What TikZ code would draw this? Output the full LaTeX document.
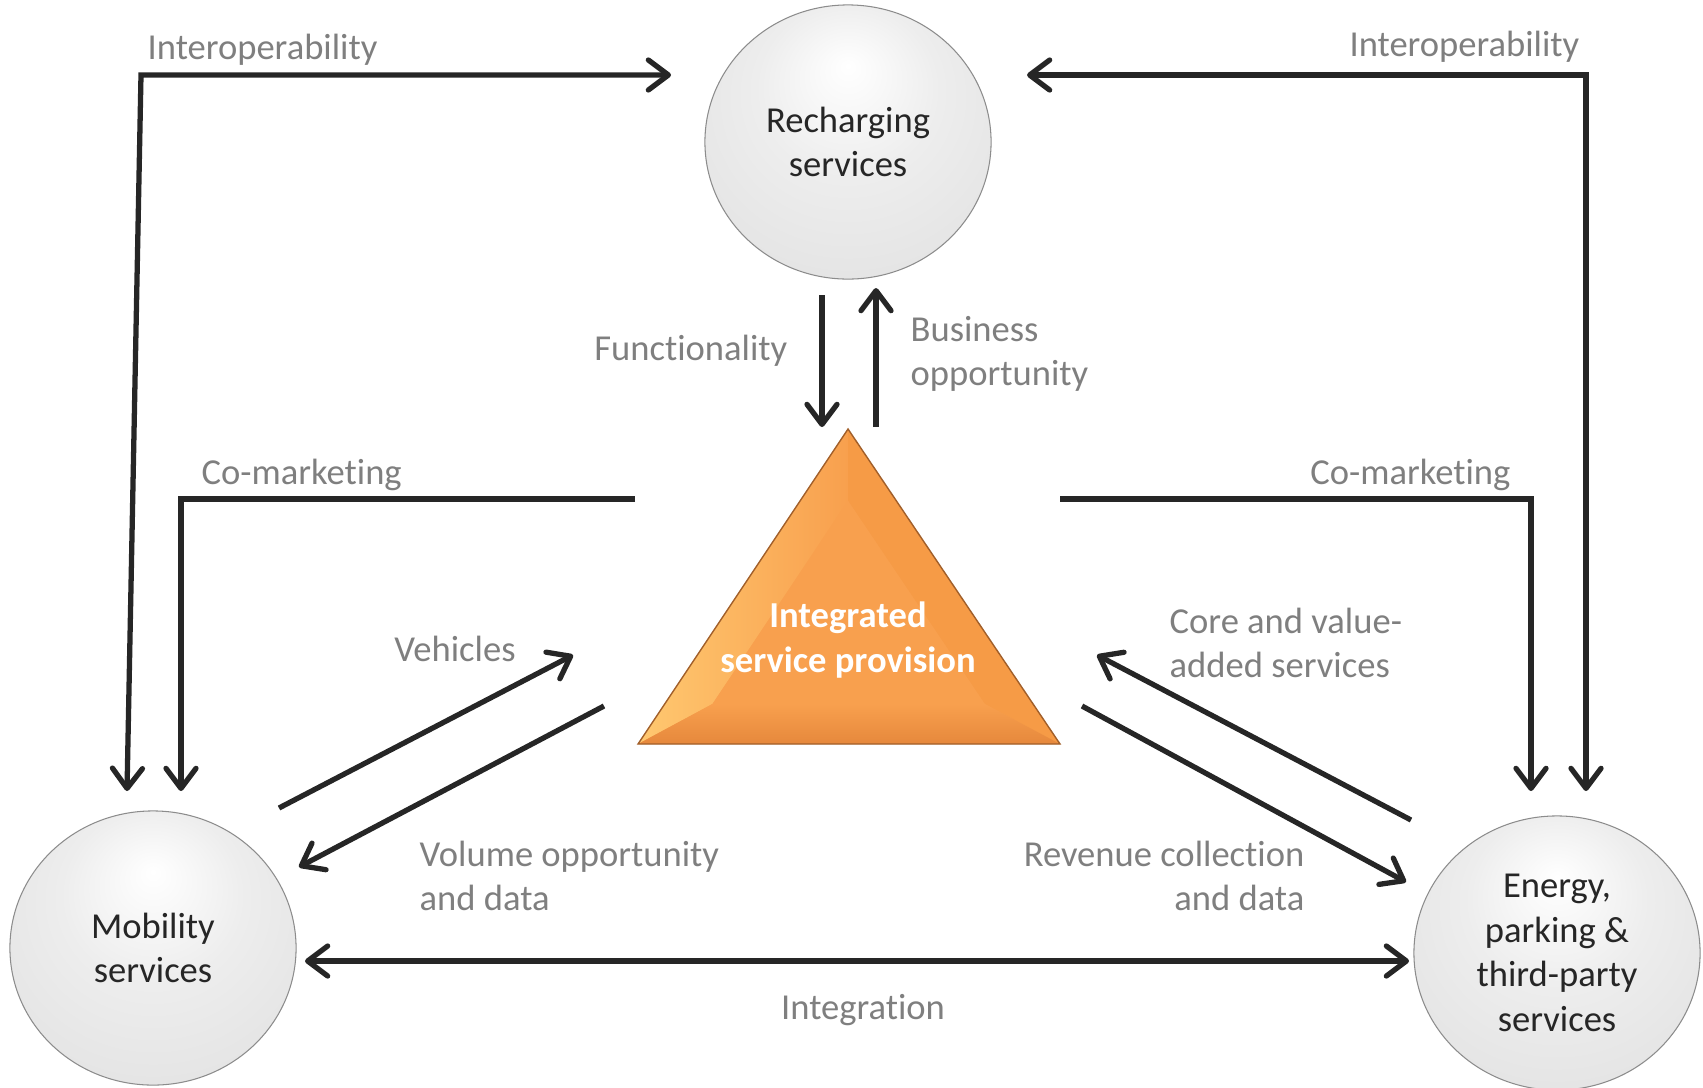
\documentclass[tikz,border=0pt]{standalone}
\usepackage{fontspec}
\setmainfont{Carlito}[Ligatures=NoCommon]
\usetikzlibrary{arrows.meta,shapes.geometric,calc}

\definecolor{linegray}{RGB}{38,38,38}
\definecolor{labelgray}{RGB}{127,127,127}
\definecolor{orangemid}{RGB}{248,160,78}
\definecolor{orangelight}{RGB}{255,200,112}
\definecolor{orangeright}{RGB}{246,155,70}
\definecolor{orangedark}{RGB}{230,136,60}
\pgfdeclareradialshading{sphere}{\pgfpoint{0bp}{14bp}}{color(0bp)=(white); color(16bp)=(black!7); color(38bp)=(black!12); color(46bp)=(black!24); color(50bp)=(black!55)}

\tikzset{
  service/.style={ellipse, shade, shading=sphere, draw=black!45, line width=0.3pt,
    minimum width=2.86cm, minimum height=2.74cm, inner sep=0pt, align=center,
    text=linegray, font=\fontsize{10.4}{12.7}\selectfont},
  core/.style={align=center, text=white, inner sep=0pt,
    font=\fontsize{10.4}{12.7}\selectfont\bfseries},
  tag/.style={text=labelgray, inner sep=0pt, font=\fontsize{10.4}{12.7}\selectfont},
  link/.style={draw=linegray, line width=1.5pt},
}

\begin{document}
\begin{tikzpicture}[x=0.01cm, y=-0.01cm,
    >={Straight Barb[length=2mm,width=3mm,line cap=round,line join=round]}]
        \useasboundingbox (0,0) rectangle (1703,1087);
        %%%%%%%%%%%%%%%%%%%%%%%% Servicios (esferas) %%%%%%%%%%%%%%%%%%%%%%%%%%%%%%
        \node[service] (rech) at (848,142) {Recharging\\services};
        \node[service] (mob) at (153,948) {Mobility\\services};
        \node[service] (ener) at (1557,953) {Energy,\\parking \&\\third-party\\services};
        %%%%%%%%%%%%%%%%%%%%%%%% Triangulo central %%%%%%%%%%%%%%%%%%%%%%%%%%%%%%%%
        \coordinate (apex) at (848,429);
        \coordinate (bl) at (638,744);
        \coordinate (br) at (1060,744);
        \coordinate (inc) at (848,631); %incentro
        \coordinate (iapex) at ($(inc)!0.645!(apex)$);
        \coordinate (ibl) at ($(inc)!0.645!(bl)$);
        \coordinate (ibr) at ($(inc)!0.645!(br)$);
        \fill[orangemid] (apex) -- (bl) -- (br) -- cycle;
        \shade[left color=orangelight, right color=orangemid] (apex) -- (bl) -- (ibl) -- (iapex) -- cycle; %cara izquierda
        \fill[orangeright] (apex) -- (br) -- (ibr) -- (iapex) -- cycle; %cara derecha
        \shade[top color=orangemid, bottom color=orangedark] (bl) -- (br) -- (ibr) -- (ibl) -- cycle; %cara inferior
        \fill[orangemid] (iapex) -- (ibl) -- (ibr) -- cycle;
        \draw[orangedark!70!black, line width=0.4pt] (apex) -- (bl) -- (br) -- cycle;
        \node[core] (isp) at (848,640) {Integrated\\service provision};
        %%%%%%%%%%%%%%%%%%%%%%%% Interoperabilidad %%%%%%%%%%%%%%%%%%%%%%%%%%%%%%%%
        \coordinate (mobin) at (127,791);
        \coordinate (iol) at (141,75); %esquina izquierda
        \coordinate (rechin) at (671,75);
        \draw[link, <->] (mobin) -- (iol) -- (rechin);
        \node[tag, anchor=west] (iolab) at (147,50) {Interoperability};
        \coordinate (rechinr) at (1027,75);
        \coordinate (ior) at (1586,75); %esquina derecha
        \coordinate (enerin) at (1586,791);
        \draw[link, <->] (rechinr) -- (ior) -- (enerin);
        \node[tag, anchor=east] (iorlab) at (1580,47) {Interoperability};
        %%%%%%%%%%%%%%%%%%%%%%%% Funcionalidad / negocio %%%%%%%%%%%%%%%%%%%%%%%%%%
        \coordinate (funtop) at (822,295);
        \coordinate (funbot) at (822,427);
        \draw[link, ->] (funtop) -- (funbot);
        \node[tag, anchor=east] (funlab) at (788,351) {Functionality};
        \coordinate (busbot) at (876,427);
        \coordinate (bustop) at (876,288);
        \draw[link, ->] (busbot) -- (bustop);
        \node[tag, anchor=west, align=left] (buslab) at (910,354) {Business\\opportunity};
        %%%%%%%%%%%%%%%%%%%%%%%% Co-marketing %%%%%%%%%%%%%%%%%%%%%%%%%%%%%%%%%%%%%
        \coordinate (cml) at (635,499);
        \coordinate (cmlc) at (181,499);
        \coordinate (cmlend) at (181,791);
        \draw[link, ->] (cml) -- (cmlc) -- (cmlend);
        \node[tag, anchor=west] (cmllab) at (201,475) {Co-marketing};
        \coordinate (cmr) at (1060,499);
        \coordinate (cmrc) at (1531,499);
        \coordinate (cmrend) at (1531,791);
        \draw[link, ->] (cmr) -- (cmrc) -- (cmrend);
        \node[tag, anchor=east] (cmrlab) at (1511,475) {Co-marketing};
        %%%%%%%%%%%%%%%%%%%%%%%% Movilidad <-> triangulo %%%%%%%%%%%%%%%%%%%%%%%%%%
        \coordinate (vehs) at (279,808);
        \coordinate (vehe) at (573,655);
        \draw[link, ->] (vehs) -- (vehe);
        \node[tag] (vehlab) at (455,649) {Vehicles};
        \coordinate (vols) at (604,706);
        \coordinate (vole) at (299,867);
        \draw[link, ->] (vols) -- (vole);
        \node[tag, anchor=west, align=left] (vollab) at (419,876) {Volume opportunity\\and data};
        %%%%%%%%%%%%%%%%%%%%%%%% Energia <-> triangulo %%%%%%%%%%%%%%%%%%%%%%%%%%%%
        \coordinate (cors) at (1411,820);
        \coordinate (core) at (1097,655);
        \draw[link, ->] (cors) -- (core);
        \node[tag, anchor=west, align=left] (corlab) at (1169,643) {Core and value-\\added services};
        \coordinate (revs) at (1082,706);
        \coordinate (reve) at (1406,882);
        \draw[link, ->] (revs) -- (reve);
        \node[tag, anchor=east, align=right] (revlab) at (1305,876) {Revenue collection\\and data};
        %%%%%%%%%%%%%%%%%%%%%%%% Integracion %%%%%%%%%%%%%%%%%%%%%%%%%%%%%%%%%%%%%%
        \coordinate (intl) at (305,961);
        \coordinate (intr) at (1409,961);
        \draw[link, <->] (intl) -- (intr);
        \node[tag] (intlab) at (863,1010) {Integration};
\end{tikzpicture}
\end{document}
